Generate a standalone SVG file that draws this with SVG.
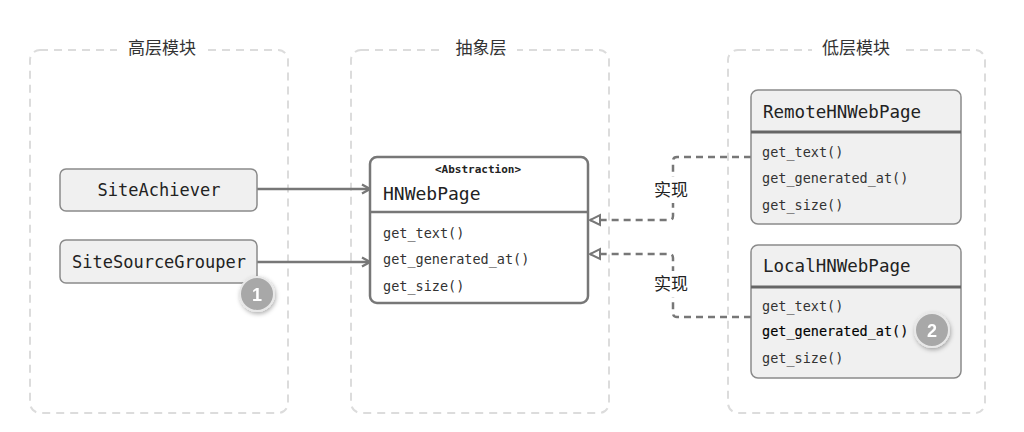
<svg xmlns="http://www.w3.org/2000/svg" width="1024" height="432" viewBox="0 0 1024 432">
<style>
.grp{fill:none;stroke:#dcdcdc;stroke-width:2;stroke-dasharray:8 6}
.gt{font-family:"Noto Sans CJK SC",sans-serif;font-size:17px;fill:#333;text-anchor:middle}
.box{fill:#f0f0f0;stroke:#8a8a8a;stroke-width:1.5}
.mono{font-family:"DejaVu Sans Mono","Liberation Mono",monospace;fill:#222}
.meth{font-family:"DejaVu Sans Mono","Liberation Mono",monospace;font-size:13.5px;fill:#333}
.solid{fill:none;stroke:#777;stroke-width:2.5}
.dash{fill:none;stroke:#777;stroke-width:2.5;stroke-dasharray:7 5}
.lbl{font-family:"Noto Sans CJK SC",sans-serif;font-size:17px;fill:#222;text-anchor:middle}
.badge{fill:#a8a8a8;stroke:#e8e8e8;stroke-width:2}
.bt{font-family:"Liberation Sans",sans-serif;font-size:18px;font-weight:bold;fill:#fff;text-anchor:middle}
</style>
<defs>
<marker id="open" markerWidth="12" markerHeight="12" refX="10" refY="6" orient="auto" markerUnits="userSpaceOnUse">
<path d="M2,1.5 L10,6 L2,10.5" fill="none" stroke="#777" stroke-width="2.2"/>
</marker>
<marker id="tri" markerWidth="14" markerHeight="14" refX="12" refY="7" orient="auto" markerUnits="userSpaceOnUse">
<path d="M12,7 L2,2 L2,12 Z" fill="#fff" stroke="#777" stroke-width="2"/>
</marker>
<filter id="sh" x="-50%" y="-50%" width="200%" height="200%">
<feDropShadow dx="1" dy="2" stdDeviation="2" flood-color="#000" flood-opacity="0.3"/>
</filter>
</defs>
<rect width="1024" height="432" fill="#fff"/>

<g id="group-high">
<rect class="grp" x="30" y="50" width="258" height="363" rx="10"/>
<rect x="117" y="38" width="88" height="24" fill="#fff"/>
<text class="gt" x="162" y="54">高层模块</text>
</g>
<g id="group-abstract">
<rect class="grp" x="351" y="50" width="258" height="363" rx="10"/>
<rect x="445" y="38" width="72" height="24" fill="#fff"/>
<text class="gt" x="481" y="54">抽象层</text>
</g>
<g id="group-low">
<rect class="grp" x="728" y="50" width="257" height="363" rx="10"/>
<rect x="812" y="38" width="88" height="24" fill="#fff"/>
<text class="gt" x="856" y="54">低层模块</text>
</g>

<g id="connectors">
<line class="solid" x1="257" y1="189" x2="370" y2="189" marker-end="url(#open)"/>
<line class="solid" x1="257" y1="262" x2="370" y2="262" marker-end="url(#open)"/>
<path class="dash" d="M751,157 L677,157 Q673,157 673,161 L673,216 Q673,220 669,220 L590,220" marker-end="url(#tri)"/>
<path class="dash" d="M751,317 L677,317 Q673,317 673,313 L673,258 Q673,254 669,254 L590,254" marker-end="url(#tri)"/>
<rect x="650" y="177" width="42" height="26" fill="#fff"/>
<text class="lbl" x="671" y="196">实现</text>
<rect x="650" y="271" width="42" height="26" fill="#fff"/>
<text class="lbl" x="671" y="290">实现</text>
</g>

<g id="SiteAchiever">
<rect class="box" x="60" y="169" width="197" height="42" rx="6"/>
<text class="mono" x="159" y="196" font-size="17" text-anchor="middle">SiteAchiever</text>
</g>
<g id="SiteSourceGrouper">
<rect class="box" x="60" y="240" width="197" height="43" rx="6"/>
<text class="mono" x="159" y="268" font-size="17" text-anchor="middle">SiteSourceGrouper</text>
</g>
<g id="badge1" filter="url(#sh)">
<circle class="badge" cx="257" cy="294" r="17"/>
<text class="bt" x="257" y="300.5">1</text>
</g>

<g id="HNWebPage">
<rect x="370" y="157" width="218" height="146" rx="7" fill="#fff" stroke="#777" stroke-width="2.5"/>
<line x1="370" y1="212" x2="588" y2="212" stroke="#777" stroke-width="2.5"/>
<text class="mono" x="478" y="173" font-size="11" font-weight="bold" text-anchor="middle">&lt;Abstraction&gt;</text>
<text class="mono" x="383" y="200" font-size="18">HNWebPage</text>
<text class="meth" x="383" y="238">get_text()</text>
<text class="meth" x="383" y="264">get_generated_at()</text>
<text class="meth" x="383" y="291">get_size()</text>
</g>

<g id="RemoteHNWebPage">
<rect class="box" x="751" y="90" width="210" height="134" rx="7"/>
<line x1="751" y1="132" x2="961" y2="132" stroke="#666" stroke-width="3"/>
<text class="mono" x="763" y="118" font-size="17.5">RemoteHNWebPage</text>
<text class="meth" x="762" y="157">get_text()</text>
<text class="meth" x="762" y="183">get_generated_at()</text>
<text class="meth" x="762" y="210">get_size()</text>
</g>

<g id="LocalHNWebPage">
<rect class="box" x="751" y="245" width="210" height="133" rx="7"/>
<line x1="751" y1="287" x2="961" y2="287" stroke="#666" stroke-width="3"/>
<text class="mono" x="763" y="272" font-size="17.5">LocalHNWebPage</text>
<text class="meth" x="762" y="311">get_text()</text>
<text class="meth" x="762" y="336" style="fill:#000;stroke:#000;stroke-width:0.15">get_generated_at()</text>
<text class="meth" x="762" y="363">get_size()</text>
</g>
<g id="badge2" filter="url(#sh)">
<circle class="badge" cx="932" cy="330" r="17"/>
<text class="bt" x="932" y="336.5">2</text>
</g>
</svg>
